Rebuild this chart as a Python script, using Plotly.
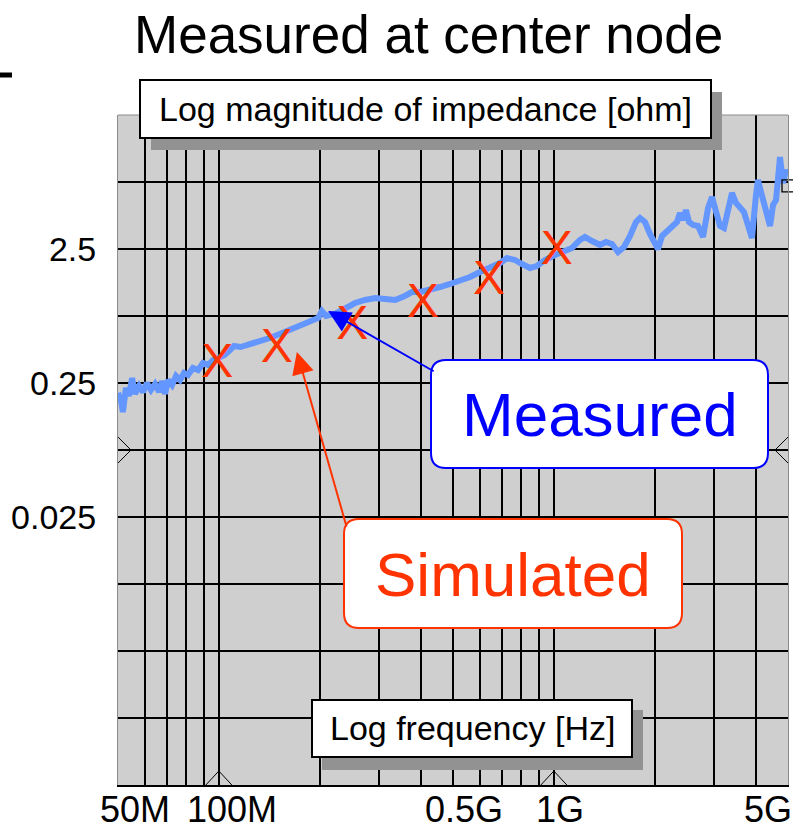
import math
import plotly.graph_objects as go

# ---------------- data ----------------
MEAS_FREQ_MHZ = [
    50.0, 51.0, 51.7, 52.8, 53.9, 55.1, 56.2, 57.8, 59.4, 61.0,
    62.7, 64.5, 66.3, 67.7, 69.1, 70.5, 72.5, 74.5, 76.6, 78.7,
    80.9, 83.7, 86.7, 89.7, 92.8, 96.1, 99.4, 104, 108, 111,
    116, 124, 133, 142, 152, 163, 175, 187, 198, 203,
    209, 222, 238, 255, 273, 293, 313, 336, 359, 377,
    399, 427, 457, 490, 525, 562, 602, 645, 691, 725,
    766, 803, 849, 890, 941, 1008, 1065, 1133, 1197, 1239,
    1300, 1373, 1431, 1491, 1554, 1620, 1688, 1759, 1808, 1871,
    1936, 2004, 2046, 2103, 2192, 2268, 2331, 2380, 2429, 2480,
    2532, 2603, 2694, 2788, 2886, 2966, 3048, 3133, 3220, 3311,
    3402, 3498, 3595, 3694, 3797, 3903, 4012, 4068, 4153, 4269,
    4419, 4511, 4605, 4733, 4831, 4932, 5000]
MEAS_Z_OHM = [
    0.2105, 0.1866, 0.1519, 0.2294, 0.2000, 0.2723, 0.2069, 0.2374, 0.2142, 0.2500,
    0.2217, 0.2457, 0.2142, 0.2587, 0.2069, 0.2632, 0.2415, 0.2818, 0.2632, 0.2969,
    0.2869, 0.3235, 0.3126, 0.3525, 0.3405, 0.3711, 0.3842, 0.4045, 0.4406, 0.4721,
    0.4641, 0.4886, 0.5058, 0.5417, 0.5802, 0.6216, 0.6657, 0.7254, 0.7638, 0.8615,
    0.7906, 0.8182, 0.8915, 0.9884, 1.041, 1.077, 1.059, 1.041, 1.115, 1.194,
    1.194, 1.236, 1.301, 1.370, 1.443, 1.545, 1.684, 1.804, 1.965, 2.141,
    2.069, 1.932, 1.804, 1.866, 2.069, 2.255, 2.374, 2.544, 2.919, 3.073,
    2.869, 2.678, 2.819, 2.724, 2.374, 2.587, 3.126, 3.975, 4.258, 3.975,
    3.235, 2.819, 2.500, 3.126, 3.465, 3.711, 3.975, 4.640, 4.115, 4.886,
    3.975, 3.776, 3.711, 3.073, 5.058, 6.109, 4.886, 3.711, 3.586, 4.886,
    6.545, 5.511, 5.058, 4.721, 3.776, 3.020, 6.324, 8.182, 6.659, 4.886,
    3.711, 5.325, 5.801, 12.15, 7.771, 9.716, 8.915]

SIM_FREQ_MHZ = [99, 149, 250, 406, 640, 1020]
SIM_Z_OHM = [0.34, 0.44, 0.65, 0.955, 1.42, 2.38]

CURSOR_FREQ_MHZ = [50, 5000]
CURSOR_Z_OHM = [0.21, 7.4]

X_RANGE_MHZ = [50, 5000]
Y_RANGE_OHM = [0.00025, 25]
X_GRID_MHZ = [60, 70, 80, 90, 100, 200, 300, 400, 500, 600, 700, 800, 900,
              1000, 2000, 3000, 4000]
Y_GRID_OHM = [7.9, 2.5, 0.79, 0.25, 0.079, 0.025, 0.0079, 0.0025, 0.00079]
Y_TICK_VALS = [2.5, 0.25, 0.025]
Y_TICK_TEXT = ["2.5", "0.25", "0.025"]
X_TICK_MHZ = [50, 100, 500, 1000, 5000]
X_TICK_TEXT = ["50M", "100M", "0.5G", "1G", "5G"]
X_TICK_SHIFT = [17, 13, 11, 6, -20]

MARKER_FREQ_MHZ = [100, 1000]   # bottom cursor carets
MARKER_Z_OHM = 0.079            # side cursor carets

MEAS_ARROW_TIP = (212, 0.86)
SIM_ARROW_TIP = (171, 0.426)

FONT = "Liberation Sans, Arial, sans-serif"
NARROW = "Liberation Sans Narrow, Arial Narrow, Liberation Sans, Arial, sans-serif"
BLUE = "#0000FF"
RED = "#FF3300"
CURVE = "#6496FF"
GRID = "#000000"

# ---------------- layout geometry (figure pixels) ----------------
FIG_W, FIG_H = 793, 830
L, T, W, H = 118, 115, 670, 670


def pxx(x):
    return (x - L) / W


def pxy(y):
    return (T + H - y) / H


def mhz(v):
    return v * 1e6


def rounded_rect(x0, y0, x1, y1, r):
    # pixel coordinates -> paper path with rounded corners
    X0, X1 = pxx(x0), pxx(x1)
    Y0, Y1 = pxy(y1), pxy(y0)   # bottom, top in paper
    rx, ry = r / W, r / H
    return (f"M {X0+rx},{Y0} L {X1-rx},{Y0} Q {X1},{Y0} {X1},{Y0+ry} "
            f"L {X1},{Y1-ry} Q {X1},{Y1} {X1-rx},{Y1} L {X0+rx},{Y1} "
            f"Q {X0},{Y1} {X0},{Y1-ry} L {X0},{Y0+ry} Q {X0},{Y0} {X0+rx},{Y0} Z")


def paper_x_of_freq(f_mhz):
    lo, hi = math.log10(X_RANGE_MHZ[0]), math.log10(X_RANGE_MHZ[1])
    return (math.log10(f_mhz) - lo) / (hi - lo)


def paper_y_of_z(z):
    lo, hi = math.log10(Y_RANGE_OHM[0]), math.log10(Y_RANGE_OHM[1])
    return (math.log10(z) - lo) / (hi - lo)


fig = go.Figure()

fig.add_trace(go.Scatter(
    x=[mhz(f) for f in MEAS_FREQ_MHZ], y=MEAS_Z_OHM, mode="lines",
    line=dict(color=CURVE, width=6), hoverinfo="skip", showlegend=False))

fig.add_trace(go.Scatter(
    x=[mhz(f) for f in CURSOR_FREQ_MHZ], y=CURSOR_Z_OHM, mode="markers",
    marker=dict(symbol="square-open", size=12, color="black",
                line=dict(width=1.3, color="black")),
    cliponaxis=False, hoverinfo="skip", showlegend=False))

fig.add_trace(go.Scatter(
    x=[mhz(f) for f in SIM_FREQ_MHZ], y=SIM_Z_OHM, mode="text",
    text=["X"] * len(SIM_FREQ_MHZ), textposition="middle center",
    textfont=dict(family=FONT, size=48, color=RED),
    cliponaxis=False, hoverinfo="skip", showlegend=False))

shapes = []
# top edge of the frame
shapes.append(dict(type="line", xref="paper", yref="paper", x0=0, x1=1, y0=1, y1=1,
                   line=dict(color="#8c8c8c", width=1), layer="above"))
# small dash at the top-left corner
shapes.append(dict(type="line", xref="paper", yref="paper",
                   x0=pxx(0), x1=pxx(12), y0=pxy(75), y1=pxy(75),
                   line=dict(color="black", width=5), layer="above"))
# cursor carets
for f in MARKER_FREQ_MHZ:
    shapes.append(dict(type="path", xref="paper", yref="paper",
                       xsizemode="pixel", ysizemode="pixel",
                       xanchor=paper_x_of_freq(f), yanchor=0,
                       path="M -13,0 L 0,14 L 13,0",
                       line=dict(color="black", width=1), layer="above"))
ym = paper_y_of_z(MARKER_Z_OHM)
shapes.append(dict(type="path", xref="paper", yref="paper",
                   xsizemode="pixel", ysizemode="pixel", xanchor=0, yanchor=ym,
                   path="M 0,13 L 13,0 L 0,-13",
                   line=dict(color="black", width=1), layer="above"))
shapes.append(dict(type="path", xref="paper", yref="paper",
                   xsizemode="pixel", ysizemode="pixel", xanchor=1, yanchor=ym,
                   path="M 0,13 L -13,0 L 0,-13",
                   line=dict(color="black", width=1), layer="above"))

# axis-title boxes with drop shadows
SHADOW = "#929292"
for (x0, y0, x1, y1) in [(151, 92, 722, 150), (322, 710, 643, 770)]:
    shapes.append(dict(type="rect", xref="paper", yref="paper",
                       x0=pxx(x0), x1=pxx(x1), y0=pxy(y1), y1=pxy(y0),
                       fillcolor=SHADOW, line=dict(width=0), layer="above"))
for (x0, y0, x1, y1) in [(140, 80, 711, 138), (312, 700, 632, 757)]:
    shapes.append(dict(type="rect", xref="paper", yref="paper",
                       x0=pxx(x0), x1=pxx(x1), y0=pxy(y1), y1=pxy(y0),
                       fillcolor="white", line=dict(color="black", width=2),
                       layer="above"))
# callout boxes
shapes.append(dict(type="path", xref="paper", yref="paper",
                   path=rounded_rect(431, 360, 768, 468, 15),
                   fillcolor="white", line=dict(color=BLUE, width=2), layer="above"))
shapes.append(dict(type="path", xref="paper", yref="paper",
                   path=rounded_rect(344, 519, 682, 628, 15),
                   fillcolor="white", line=dict(color=RED, width=2), layer="above"))

annotations = []
# title
annotations.append(dict(text="Measured at center node", xref="paper", yref="paper",
                        x=pxx(428), y=pxy(34), xanchor="center", yanchor="middle",
                        showarrow=False, font=dict(family=FONT, size=53, color="black")))
# box texts
annotations.append(dict(text="Log magnitude of impedance [ohm]", xref="paper", yref="paper",
                        x=pxx(425), y=pxy(109), xanchor="center", yanchor="middle",
                        showarrow=False, font=dict(family=FONT, size=34, color="black")))
annotations.append(dict(text="Log frequency [Hz]", xref="paper", yref="paper",
                        x=pxx(472), y=pxy(728), xanchor="center", yanchor="middle",
                        showarrow=False, font=dict(family=FONT, size=34, color="black")))
annotations.append(dict(text="Measured", xref="paper", yref="paper",
                        x=pxx(600), y=pxy(414), xanchor="center", yanchor="middle",
                        showarrow=False, font=dict(family=FONT, size=62, color=BLUE)))
annotations.append(dict(text="Simulated", xref="paper", yref="paper",
                        x=pxx(513), y=pxy(574), xanchor="center", yanchor="middle",
                        showarrow=False, font=dict(family=FONT, size=62, color=RED)))
# arrows
annotations.append(dict(text="", xref="x", yref="y",
                        x=math.log10(mhz(MEAS_ARROW_TIP[0])), y=math.log10(MEAS_ARROW_TIP[1]),
                        ax=107, ay=61, showarrow=True, arrowhead=2, arrowsize=2.2,
                        arrowwidth=2, arrowcolor=BLUE, standoff=0))
annotations.append(dict(text="", xref="x", yref="y",
                        x=math.log10(mhz(SIM_ARROW_TIP[0])), y=math.log10(SIM_ARROW_TIP[1]),
                        ax=50, ay=176, showarrow=True, arrowhead=2, arrowsize=2.2,
                        arrowwidth=2, arrowcolor=RED, standoff=0))
# x tick labels
for f, txt, sh in zip(X_TICK_MHZ, X_TICK_TEXT, X_TICK_SHIFT):
    annotations.append(dict(text=txt, xref="x", yref="paper",
                            x=math.log10(mhz(f)), y=pxy(809), xanchor="center",
                            yanchor="middle", xshift=sh, showarrow=False,
                            font=dict(family=NARROW, size=36, color="black")))

fig.update_layout(
    width=FIG_W, height=FIG_H,
    margin=dict(l=L, r=FIG_W - L - W, t=T, b=FIG_H - T - H, pad=0),
    paper_bgcolor="white", plot_bgcolor="#CFCFCF",
    showlegend=False, shapes=shapes, annotations=annotations,
    font=dict(family=FONT, color="black"),
)
fig.update_xaxes(
    type="log", range=[math.log10(mhz(X_RANGE_MHZ[0])), math.log10(mhz(X_RANGE_MHZ[1]))],
    tickmode="array", tickvals=[mhz(f) for f in X_GRID_MHZ], showticklabels=False,
    ticks="", showgrid=True, gridcolor=GRID, gridwidth=1.5,
    showline=True, linecolor=GRID, linewidth=1.5, mirror=False, zeroline=False,
)
fig.update_yaxes(
    type="log", range=[math.log10(Y_RANGE_OHM[0]), math.log10(Y_RANGE_OHM[1])],
    tickmode="array", tickvals=Y_GRID_OHM,
    ticktext=[Y_TICK_TEXT[Y_TICK_VALS.index(v)] if v in Y_TICK_VALS else "" for v in Y_GRID_OHM],
    tickfont=dict(family=FONT, size=34, color="black"), ticks="",
    ticklabelstandoff=14,
    showgrid=True, gridcolor=GRID, gridwidth=1.5,
    showline=True, linecolor="#8c8c8c", linewidth=1, mirror=True, zeroline=False,
)

fig.write_html("out.html")
